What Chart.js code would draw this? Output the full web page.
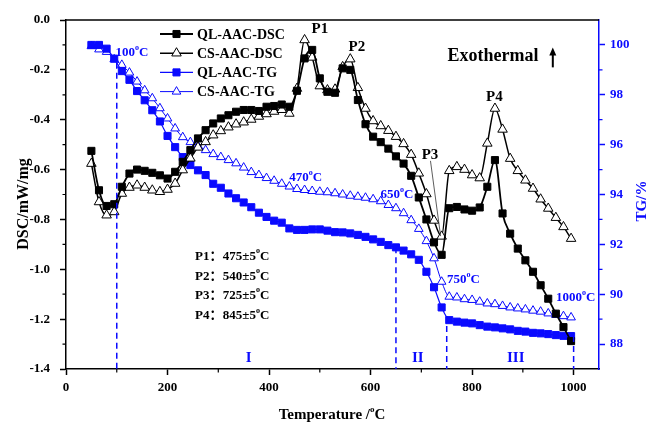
<!DOCTYPE html>
<html>
<head>
<meta charset="utf-8">
<script src="https://cdn.jsdelivr.net/npm/chart.js@4.4.1/dist/chart.umd.min.js"></script>
<style>
  html, body { margin: 0; padding: 0; background: #fff; }
  #wrap { width: 651px; height: 426px; position: relative; }
</style>
</head>
<body>
<div id="wrap"><canvas id="grafico"></canvas></div>
<script>
// temperatures (°C) shared by all four curves
const temps = [50, 65, 80, 95, 110, 125, 140, 155, 170, 185, 200, 215, 230, 245, 260, 275,
  290, 305, 320, 335, 350, 365, 380, 395, 410, 425, 440, 455, 470, 485, 500, 515,
  530, 545, 560, 575, 590, 605, 620, 635, 650, 665, 680, 695, 710, 725, 740, 755,
  770, 785, 800, 815, 830, 845, 860, 875, 890, 905, 920, 935, 950, 965, 980, 995];

// DSC, mW/mg
const qlDsc = [-0.525, -0.683, -0.746, -0.739, -0.669, -0.616, -0.600, -0.605, -0.613, -0.623, -0.636, -0.609, -0.569, -0.522, -0.475, -0.442,
  -0.415, -0.395, -0.382, -0.368, -0.361, -0.361, -0.365, -0.348, -0.345, -0.339, -0.348, -0.284, -0.154, -0.120, -0.234, -0.288,
  -0.292, -0.194, -0.200, -0.321, -0.418, -0.468, -0.490, -0.516, -0.547, -0.576, -0.625, -0.712, -0.800, -0.892, -0.942, -0.755,
  -0.750, -0.760, -0.765, -0.752, -0.669, -0.562, -0.776, -0.857, -0.917, -0.964, -1.010, -1.064, -1.118, -1.178, -1.232, -1.288];
const csDsc = [-0.576, -0.730, -0.783, -0.770, -0.696, -0.672, -0.663, -0.672, -0.683, -0.689, -0.680, -0.656, -0.602, -0.555, -0.511, -0.489,
  -0.462, -0.445, -0.430, -0.418, -0.410, -0.399, -0.387, -0.377, -0.367, -0.360, -0.375, -0.275, -0.080, -0.150, -0.265, -0.281,
  -0.278, -0.188, -0.157, -0.272, -0.355, -0.405, -0.425, -0.444, -0.468, -0.497, -0.540, -0.615, -0.698, -0.804, -0.868, -0.605,
  -0.589, -0.600, -0.622, -0.634, -0.495, -0.355, -0.439, -0.556, -0.605, -0.643, -0.676, -0.719, -0.756, -0.793, -0.830, -0.877];

// TG, %
const qlTg = [100.0, 100.0, 99.85, 99.45, 98.95, 98.6, 98.15, 97.78, 97.38, 96.93, 96.35, 95.9, 95.5, 95.18, 94.97, 94.78,
  94.43, 94.27, 94.04, 93.85, 93.68, 93.49, 93.27, 93.1, 92.95, 92.87, 92.64, 92.58, 92.58, 92.6, 92.6, 92.55,
  92.49, 92.48, 92.44, 92.38, 92.3, 92.2, 92.1, 91.97, 91.88, 91.75, 91.6, 91.38, 90.9, 90.28, 89.47, 88.96,
  88.9, 88.86, 88.83, 88.76, 88.7, 88.67, 88.63, 88.59, 88.53, 88.5, 88.45, 88.43, 88.4, 88.36, 88.33, 88.32];
const csTg = [99.95, 99.82, 99.72, 99.42, 99.2, 98.89, 98.53, 98.18, 97.86, 97.46, 97.05, 96.65, 96.3, 96.1, 95.95, 95.78,
  95.62, 95.5, 95.38, 95.25, 95.08, 94.9, 94.78, 94.66, 94.55, 94.43, 94.32, 94.22, 94.18, 94.14, 94.11, 94.09,
  94.05, 94.0, 93.95, 93.91, 93.87, 93.81, 93.73, 93.58, 93.45, 93.25, 92.97, 92.62, 92.13, 91.44, 90.5, 89.9,
  89.87, 89.8, 89.77, 89.7, 89.63, 89.6, 89.53, 89.47, 89.43, 89.39, 89.34, 89.3, 89.23, 89.17, 89.12, 89.07];

// axis ticks
const xTicks = [0, 200, 400, 600, 800, 1000];
const xMinor = [100, 300, 500, 700, 900];
const dscTicks = [0, -0.2, -0.4, -0.6, -0.8, -1.0, -1.2, -1.4];
const dscMinor = [-0.1, -0.3, -0.5, -0.7, -0.9, -1.1, -1.3];
const tgTicks = [88, 90, 92, 94, 96, 98, 100];
const tgMinor = [89, 91, 93, 95, 97, 99];

// stage boundaries and peak temperatures
const stageTemps = [100, 650, 750, 1000];
const stageNames = ['I', 'II', 'III'];
const peakNames = ['P1', 'P2', 'P3', 'P4'];
const peakTemps = ['475±5°C', '540±5°C', '725±5°C', '845±5°C'];

const SERIF = "'Liberation Serif', 'Times New Roman', 'Noto Sans CJK SC', serif";
const BLUE = '#0a0aff';

function pares(xs, ys) {
  return xs.map((x, i) => ({ x: x, y: ys[i] }));
}

// TG of the QL sample at a given temperature
function tgEn(t) {
  if (t <= temps[0]) return qlTg[0];
  for (let i = 1; i < temps.length; i++) {
    if (t <= temps[i]) {
      const f = (t - temps[i - 1]) / (temps[i] - temps[i - 1]);
      return qlTg[i - 1] + f * (qlTg[i] - qlTg[i - 1]);
    }
  }
  return qlTg[qlTg.length - 1];
}

// text with "°" set as a raised small "o"
function textoGrau(ctx, str, x, y, size, weight, align) {
  const parts = str.split('°');
  ctx.font = weight + ' ' + size + 'px ' + SERIF;
  const supSize = Math.round(size * 0.62);
  const w0 = ctx.measureText(parts[0]).width;
  const w2 = parts.length > 1 ? ctx.measureText(parts[1]).width : 0;
  ctx.font = weight + ' ' + supSize + 'px ' + SERIF;
  const ws = parts.length > 1 ? ctx.measureText('o').width : 0;
  const total = w0 + ws + w2;
  let x0 = x;
  if (align === 'center') x0 = x - total / 2;
  else if (align === 'right') x0 = x - total;
  ctx.textAlign = 'left';
  ctx.textBaseline = 'middle';
  ctx.font = weight + ' ' + size + 'px ' + SERIF;
  ctx.fillText(parts[0], x0, y);
  if (parts.length > 1) {
    ctx.font = weight + ' ' + supSize + 'px ' + SERIF;
    ctx.fillText('o', x0 + w0, y - size * 0.38);
    ctx.font = weight + ' ' + size + 'px ' + SERIF;
    ctx.fillText(parts[1], x0 + w0 + ws, y);
  }
}

const extras = {
  id: 'extras',
  afterDraw(chart) {
    const ctx = chart.ctx;
    const xs = chart.scales.x, yd = chart.scales.y, yt = chart.scales.y1;
    const area = chart.chartArea;
    ctx.save();

    // top frame line
    ctx.strokeStyle = '#000';
    ctx.lineWidth = 1.5;
    ctx.beginPath();
    ctx.moveTo(area.left, area.top);
    ctx.lineTo(area.right, area.top);
    ctx.stroke();

    // minor ticks
    ctx.lineWidth = 1.2;
    ctx.beginPath();
    xMinor.forEach(v => {
      const px = xs.getPixelForValue(v);
      ctx.moveTo(px, area.bottom);
      ctx.lineTo(px, area.bottom + 3.5);
    });
    dscMinor.forEach(v => {
      const py = yd.getPixelForValue(v);
      ctx.moveTo(area.left, py);
      ctx.lineTo(area.left - 3.5, py);
    });
    ctx.stroke();
    ctx.strokeStyle = BLUE;
    ctx.beginPath();
    tgMinor.forEach(v => {
      const py = yt.getPixelForValue(v);
      ctx.moveTo(area.right, py);
      ctx.lineTo(area.right + 3.5, py);
    });
    ctx.stroke();

    // stage boundaries: dashed from the QL TG curve down to the axis
    ctx.strokeStyle = BLUE;
    ctx.lineWidth = 1.5;
    ctx.setLineDash([6, 4]);
    stageTemps.forEach(t => {
      const px = xs.getPixelForValue(t);
      ctx.beginPath();
      ctx.moveTo(px, yt.getPixelForValue(tgEn(t)));
      ctx.lineTo(px, area.bottom);
      ctx.stroke();
    });
    ctx.setLineDash([]);

    // temperature labels on the TG curves
    ctx.fillStyle = BLUE;
    const rotulos = [
      { t: stageTemps[0], x: 130, tg: 99.68 },
      { t: 470, x: 472, tg: 94.66 },
      { t: stageTemps[1], x: 652, tg: 93.98 },
      { t: stageTemps[2], x: 783, tg: 90.57 },
      { t: stageTemps[3], x: 1004, tg: 89.85 }
    ];
    rotulos.forEach(r => {
      textoGrau(ctx, r.t + '°C', xs.getPixelForValue(r.x), yt.getPixelForValue(r.tg), 13, 'bold', 'center');
    });

    // stage names
    ctx.font = 'bold 15px ' + SERIF;
    ctx.textAlign = 'center';
    ctx.textBaseline = 'middle';
    const estX = [360, 693, 886];
    stageNames.forEach((s, i) => {
      ctx.fillText(s, xs.getPixelForValue(estX[i]), yt.getPixelForValue(87.44));
    });

    // peak markers
    ctx.fillStyle = '#000';
    ctx.font = 'bold 15px ' + SERIF;
    const picos = [[500, -0.036], [573, -0.108], [717, -0.542], [844, -0.309]];
    peakNames.forEach((p, i) => {
      ctx.fillText(p, xs.getPixelForValue(picos[i][0]), yd.getPixelForValue(picos[i][1]));
    });
    // leader line from P3 down to its valley
    ctx.strokeStyle = '#333';
    ctx.lineWidth = 0.8;
    ctx.beginPath();
    ctx.moveTo(xs.getPixelForValue(718), yd.getPixelForValue(-0.565));
    ctx.lineTo(xs.getPixelForValue(738), yd.getPixelForValue(-0.867));
    ctx.stroke();

    // Exothermal arrow
    ctx.font = 'bold 18px ' + SERIF;
    ctx.fillText('Exothermal', xs.getPixelForValue(841), yd.getPixelForValue(-0.145));
    const ax = xs.getPixelForValue(959);
    const ay0 = yd.getPixelForValue(-0.19), ay1 = yd.getPixelForValue(-0.11);
    ctx.strokeStyle = '#000';
    ctx.lineWidth = 2;
    ctx.beginPath();
    ctx.moveTo(ax, ay0);
    ctx.lineTo(ax, ay1 + 5);
    ctx.stroke();
    ctx.beginPath();
    ctx.moveTo(ax, ay1);
    ctx.lineTo(ax - 3.5, ay1 + 8);
    ctx.lineTo(ax + 3.5, ay1 + 8);
    ctx.closePath();
    ctx.fill();

    // peak temperature table
    const tabY = [-0.948, -1.028, -1.104, -1.185];
    peakNames.forEach((p, i) => {
      const py = yd.getPixelForValue(tabY[i]);
      ctx.font = 'bold 13px ' + SERIF;
      ctx.textAlign = 'left';
      ctx.fillText(p + '：', xs.getPixelForValue(254), py);
      textoGrau(ctx, peakTemps[i], xs.getPixelForValue(309), py, 13, 'bold', 'left');
    });

    // legend inside the plot
    const lx = 160, ly = 34, dy = 19.2;
    chart.data.datasets.forEach((ds, i) => {
      const y = ly + i * dy;
      ctx.strokeStyle = ds.borderColor;
      ctx.lineWidth = ds.borderWidth;
      ctx.beginPath();
      ctx.moveTo(lx, y);
      ctx.lineTo(lx + 33, y);
      ctx.stroke();
      ctx.fillStyle = ds.pointBackgroundColor;
      ctx.strokeStyle = ds.pointBorderColor;
      ctx.lineWidth = ds.pointBorderWidth;
      Chart.helpers.drawPoint(ctx, { pointStyle: ds.pointStyle, radius: ds.pointRadius, borderWidth: ds.pointBorderWidth, rotation: 0 }, lx + 16.5, y);
      ctx.fillStyle = '#000';
      ctx.font = 'bold 14px ' + SERIF;
      ctx.textAlign = 'left';
      ctx.textBaseline = 'middle';
      ctx.fillText(ds.label, lx + 37, y + 1);
    });

    // axis titles
    ctx.fillStyle = '#000';
    textoGrau(ctx, 'Temperature /°C', 332, 415, 15, 'bold', 'center');
    ctx.font = 'bold 16px ' + SERIF;
    ctx.textAlign = 'center';
    ctx.save();
    ctx.translate(24, 204);
    ctx.rotate(-Math.PI / 2);
    ctx.fillText('DSC/mW/mg', 0, 0);
    ctx.restore();
    ctx.fillStyle = BLUE;
    ctx.font = 'bold 15px ' + SERIF;
    ctx.save();
    ctx.translate(642, 201);
    ctx.rotate(-Math.PI / 2);
    ctx.fillText('TG/%', 0, 0);
    ctx.restore();

    ctx.restore();
  }
};

const tickFont = { family: SERIF, weight: 'bold', size: 13 };

new Chart(document.getElementById('grafico'), {
  type: 'line',
  data: {
    datasets: [
      {
        label: 'QL-AAC-DSC', data: pares(temps, qlDsc), yAxisID: 'y',
        borderColor: '#000', backgroundColor: '#000', borderWidth: 1.8,
        pointStyle: 'rect', pointRadius: 5, pointBackgroundColor: '#000', pointBorderColor: '#000', pointBorderWidth: 1
      },
      {
        label: 'CS-AAC-DSC', data: pares(temps, csDsc), yAxisID: 'y',
        borderColor: '#000', backgroundColor: '#fff', borderWidth: 1.5,
        pointStyle: 'triangle', pointRadius: 5.5, pointBackgroundColor: '#fff', pointBorderColor: '#000', pointBorderWidth: 1
      },
      {
        label: 'QL-AAC-TG', data: pares(temps, qlTg), yAxisID: 'y1',
        borderColor: BLUE, backgroundColor: BLUE, borderWidth: 1.2,
        pointStyle: 'rect', pointRadius: 5, pointBackgroundColor: BLUE, pointBorderColor: BLUE, pointBorderWidth: 1
      },
      {
        label: 'CS-AAC-TG', data: pares(temps, csTg), yAxisID: 'y1',
        borderColor: BLUE, backgroundColor: '#fff', borderWidth: 1,
        pointStyle: 'triangle', pointRadius: 5, pointBackgroundColor: '#fff', pointBorderColor: BLUE, pointBorderWidth: 1
      }
    ]
  },
  options: {
    responsive: true,
    maintainAspectRatio: false,
    animation: false,
    layout: { padding: { top: 20, left: 0, right: 0, bottom: 0 } },
    elements: { line: { cubicInterpolationMode: 'monotone' } },
    plugins: { legend: { display: false }, tooltip: { enabled: false } },
    scales: {
      x: {
        type: 'linear', min: 0, max: 1050,
        afterBuildTicks: s => { s.ticks = xTicks.map(v => ({ value: v })); },
        afterFit: s => { s.height = 57; },
        grid: { drawOnChartArea: false, color: '#000', tickLength: 6, tickWidth: 1.5 },
        border: { color: '#000', width: 1.5 },
        ticks: { color: '#000', font: tickFont, padding: 5, maxRotation: 0, callback: v => String(v) }
      },
      y: {
        position: 'left', min: -1.4, max: 0,
        afterBuildTicks: s => { s.ticks = dscTicks.map(v => ({ value: v })); },
        afterFit: s => { s.width = 66; },
        grid: { drawOnChartArea: false, color: '#000', tickLength: 6, tickWidth: 1.5 },
        border: { color: '#000', width: 1.5 },
        ticks: { color: '#000', font: tickFont, padding: 10, callback: v => v.toFixed(1) }
      },
      y1: {
        position: 'right', min: 87, max: 101,
        afterBuildTicks: s => { s.ticks = tgTicks.map(v => ({ value: v })); },
        afterFit: s => { s.width = 52; },
        grid: { drawOnChartArea: false, color: BLUE, tickLength: 6, tickWidth: 1.5 },
        border: { color: BLUE, width: 1.5 },
        ticks: { color: BLUE, font: tickFont, padding: 5, callback: v => String(v) }
      }
    }
  },
  plugins: [extras]
});
</script>
</body>
</html>
